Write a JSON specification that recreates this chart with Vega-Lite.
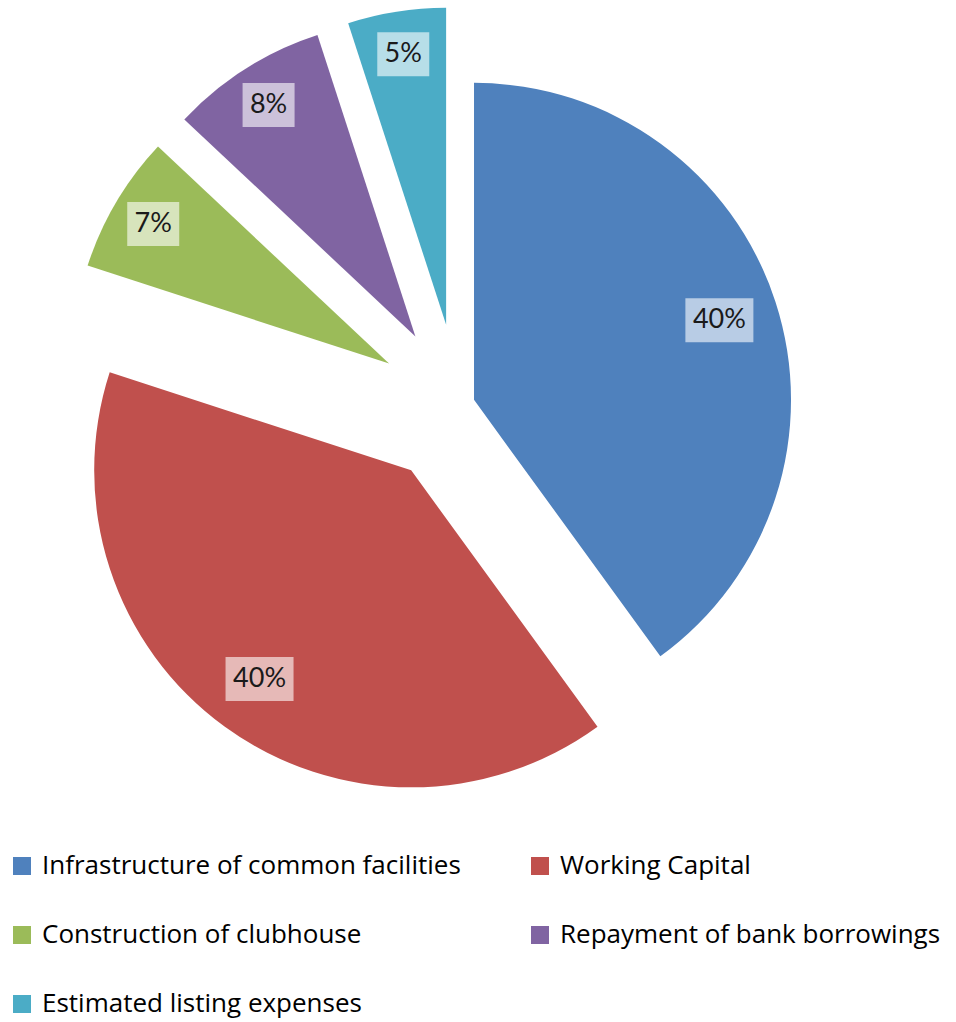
{
  "$schema": "https://vega.github.io/schema/vega-lite/v6.json",
  "width": 956,
  "height": 1022,
  "autosize": {"type": "none"},
  "padding": 0,
  "background": "white",
  "config": {"view": {"stroke": null}, "font": "Lato"},
  "data": {
    "values": [
      {"idx": 1, "category": "Infrastructure of common facilities", "pct": 40},
      {"idx": 2, "category": "Working Capital", "pct": 40},
      {"idx": 3, "category": "Construction of clubhouse", "pct": 7},
      {"idx": 4, "category": "Repayment of bank borrowings", "pct": 8},
      {"idx": 5, "category": "Estimated listing expenses", "pct": 5}
    ]
  },
  "transform": [
    {"window": [{"op": "sum", "field": "pct", "as": "cum"}], "sort": [{"field": "idx"}], "frame": [null, 0]},
    {"calculate": "datum.cum - datum.pct", "as": "start"},
    {"calculate": "(datum.cum - datum.pct / 2) / 100 * 2 * PI", "as": "mid"},
    {"calculate": "datum.idx == 1 ? 16 : 81", "as": "explode"},
    {"calculate": "datum.pct >= 10 ? 258 : 274", "as": "lr"},
    {"calculate": "sin(datum.mid) * datum.explode", "as": "dx"},
    {"calculate": "cos(datum.mid) * datum.explode", "as": "dy"},
    {"calculate": "sin(datum.mid) * (datum.explode + datum.lr)", "as": "lx"},
    {"calculate": "cos(datum.mid) * (datum.explode + datum.lr)", "as": "ly"},
    {"calculate": "datum.pct + '%'", "as": "label"}
  ],
  "layer": [
    {
      "mark": {"type": "arc", "outerRadius": 317},
      "encoding": {
        "x": {"field": "dx", "type": "quantitative", "scale": {"domain": [-458.8, 497.2], "nice": false, "zero": false}, "axis": null},
        "y": {"field": "dy", "type": "quantitative", "scale": {"domain": [-617.2, 404.8], "nice": false, "zero": false}, "axis": null},
        "theta": {"field": "start", "type": "quantitative", "scale": {"domain": [0, 100], "range": [0, 6.283185307]}},
        "theta2": {"field": "cum"},
        "color": {
          "field": "category",
          "type": "nominal",
          "scale": {
            "domain": ["Infrastructure of common facilities", "Working Capital", "Construction of clubhouse", "Repayment of bank borrowings", "Estimated listing expenses"],
            "range": ["#4F81BD", "#C0504D", "#9BBB59", "#8064A2", "#4BACC6"]
          },
          "legend": {
            "orient": "none",
            "legendX": 9,
            "legendY": 853,
            "direction": "horizontal",
            "columns": 2,
            "title": null,
            "symbolType": "square",
            "symbolSize": 324,
            "symbolStrokeWidth": 0,
            "labelFont": "Open Sans",
            "labelFontSize": 26,
            "labelColor": "#000000",
            "labelLimit": 700,
            "rowPadding": 43,
            "columnPadding": 66,
            "labelOffset": 7
          }
        }
      }
    },
    {
      "mark": {"type": "point", "filled": true, "color": "white", "opacity": 0.6},
      "encoding": {
        "x": {"field": "lx", "type": "quantitative", "scale": {"domain": [-458.8, 497.2], "nice": false, "zero": false}, "axis": null},
        "y": {"field": "ly", "type": "quantitative", "scale": {"domain": [-617.2, 404.8], "nice": false, "zero": false}, "axis": null},
        "shape": {"condition": {"test": "datum.pct >= 10", "value": "M-1,-0.647H1V0.647H-1Z"}, "value": "M-1,-0.846H1V0.846H-1Z"},
        "size": {"condition": {"test": "datum.pct >= 10", "value": 4624}, "value": 2704}
      }
    },
    {
      "mark": {"type": "text", "fontSize": 27, "color": "#1a1a1a", "font": "Lato"},
      "encoding": {
        "x": {"field": "lx", "type": "quantitative", "scale": {"domain": [-458.8, 497.2], "nice": false, "zero": false}, "axis": null},
        "y": {"field": "ly", "type": "quantitative", "scale": {"domain": [-617.2, 404.8], "nice": false, "zero": false}, "axis": null},
        "text": {"field": "label", "type": "nominal"}
      }
    }
  ]
}
